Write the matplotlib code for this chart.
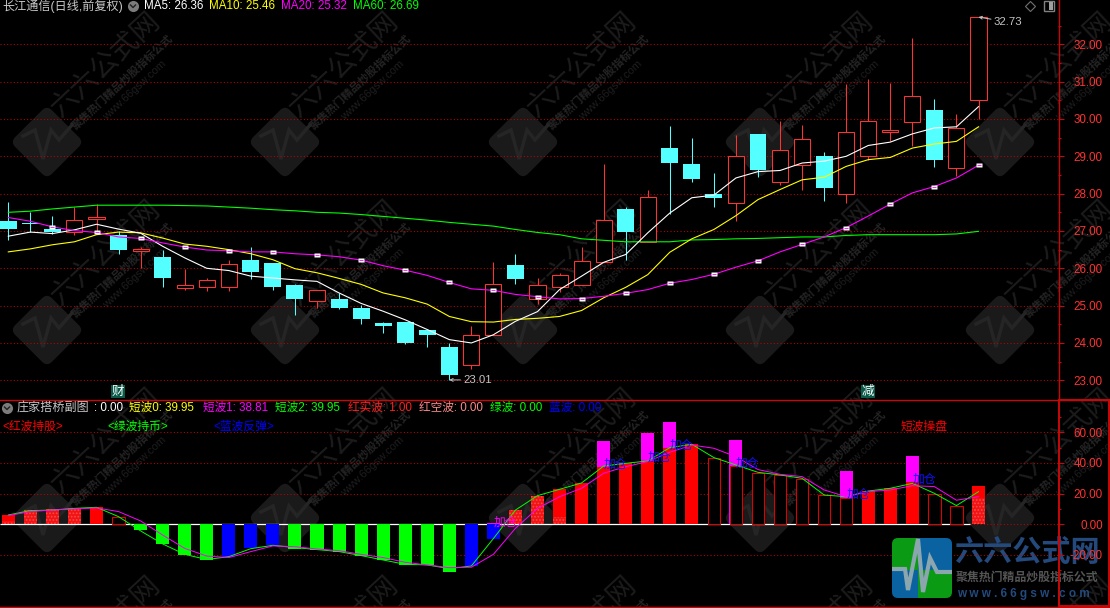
import numpy as np
import matplotlib
matplotlib.use('Agg')
import matplotlib.pyplot as plt
from matplotlib.patches import FancyBboxPatch, Rectangle
from matplotlib.transforms import Affine2D
from matplotlib.ticker import FuncFormatter

plt.rcParams['font.family'] = ['Liberation Sans', 'Noto Sans CJK SC', 'DejaVu Sans']
plt.rcParams['axes.unicode_minus'] = False
plt.rcParams['hatch.linewidth'] = 0.8

# 日K数据
opens = [27.28, 27.22, 27.04, 26.97, 27.31, 26.90, 26.46, 26.29, 25.47, 25.51, 25.49, 26.21, 26.13, 25.54, 25.12,
         25.17, 24.93, 24.54, 24.57, 24.36, 23.90, 23.40, 24.20, 26.10, 25.17, 25.49, 25.54, 26.16, 27.60, 26.71,
         29.23, 28.80, 28.00, 27.75, 29.60, 28.30, 28.76, 29.02, 27.98, 29.00, 29.66, 29.91, 30.25, 28.70, 30.50]
closes = [27.04, 27.20, 26.98, 27.29, 27.37, 26.50, 26.52, 25.75, 25.56, 25.69, 26.12, 25.91, 25.51, 25.19, 25.42,
          24.93, 24.63, 24.46, 24.01, 24.20, 23.15, 24.21, 25.58, 25.70, 25.55, 25.82, 26.20, 27.29, 26.96, 27.91,
          28.83, 28.40, 27.89, 29.02, 28.64, 29.17, 29.46, 28.16, 29.65, 29.94, 29.70, 30.61, 28.91, 29.76, 32.72]
highs = [27.78, 27.52, 27.41, 27.64, 27.73, 26.99, 26.57, 26.50, 25.97, 25.75, 26.21, 26.58, 26.13, 25.59, 25.42,
         25.33, 25.03, 24.57, 24.57, 24.36, 24.00, 24.46, 26.18, 26.37, 25.75, 25.88, 26.58, 28.80, 27.65, 28.11,
         29.82, 29.50, 28.54, 29.58, 29.60, 29.95, 29.85, 29.12, 30.94, 31.07, 30.97, 32.17, 30.54, 30.14, 32.73]
lows = [26.77, 26.97, 26.92, 26.90, 26.99, 26.39, 26.00, 25.49, 25.41, 25.38, 25.38, 25.70, 25.43, 24.74, 24.93,
        24.90, 24.50, 24.28, 23.98, 23.90, 23.01, 23.29, 24.20, 25.59, 25.05, 25.37, 25.54, 26.16, 26.23, 26.71,
        27.46, 28.32, 27.63, 27.28, 28.44, 28.22, 28.11, 27.79, 27.76, 28.91, 29.40, 29.28, 28.72, 28.48, 30.00]

ma5 = [26.86, 26.97, 26.93, 27.03, 27.18, 27.05, 26.94, 26.59, 26.28, 26.00, 25.94, 25.79, 25.74, 25.69, 25.65,
       25.34, 25.06, 24.85, 24.62, 24.36, 24.09, 24.00, 24.22, 24.58, 24.84, 25.43, 25.79, 26.16, 26.37, 26.95,
       27.48, 27.89, 27.96, 28.42, 28.59, 28.62, 28.82, 28.87, 29.00, 29.29, 29.38, 29.60, 29.76, 29.79, 30.33]
ma10 = [26.44, 26.52, 26.63, 26.71, 26.90, 26.97, 26.95, 26.81, 26.65, 26.59, 26.50, 26.39, 26.23, 25.99, 25.88,
        25.73, 25.57, 25.34, 25.21, 25.04, 24.71, 24.57, 24.56, 24.63, 24.66, 24.71, 24.87, 25.21, 25.49, 25.83,
        26.43, 26.79, 27.04, 27.41, 27.84, 28.11, 28.37, 28.44, 28.73, 28.91, 28.97, 29.22, 29.33, 29.40, 29.79]
ma20 = [27.36, 27.26, 27.11, 27.01, 26.96, 26.84, 26.80, 26.68, 26.57, 26.49, 26.47, 26.44, 26.44, 26.39, 26.36,
        26.31, 26.22, 26.07, 25.95, 25.81, 25.62, 25.45, 25.41, 25.30, 25.24, 25.18, 25.19, 25.25, 25.33, 25.43,
        25.60, 25.70, 25.84, 26.03, 26.20, 26.44, 26.64, 26.84, 27.09, 27.40, 27.72, 28.02, 28.19, 28.42, 28.76]
ma60 = [27.50, 27.53, 27.59, 27.64, 27.69, 27.69, 27.69, 27.69, 27.68, 27.67, 27.64, 27.61, 27.57, 27.54, 27.50,
        27.48, 27.44, 27.39, 27.34, 27.29, 27.23, 27.18, 27.13, 27.04, 26.96, 26.90, 26.79, 26.75, 26.71, 26.71,
        26.71, 26.76, 26.77, 26.79, 26.80, 26.82, 26.84, 26.84, 26.88, 26.90, 26.90, 26.90, 26.90, 26.92, 26.99]
price_ticks = [23, 24, 25, 26, 27, 28, 29, 30, 31, 32]

# 副图数据 r=实心红 h=空心红 g=绿 b=蓝
bar_vals = [6.1, 9.1, 10.0, 10.4, 11.3, 4.6, -3.7, -12.8, -20.0, -23.3, -21.1, -15.7, -13.7, -15.9, -16.7,
            -18.0, -20.7, -23.3, -26.5, -26.5, -31.1, -27.2, -9.3, 9.3, 18.3, 23.0, 27.0, 37.4, 39.8, 41.3,
            49.6, 52.2, 43.0, 38.0, 33.7, 32.0, 29.3, 18.9, 17.0, 21.7, 23.7, 27.4, 19.6, 11.7, 25.0]
bar_kinds = list('rrrrrh' + 'gggg' + 'bbb' + 'gggggggg' + 'bb' + 'rrrrrrrrr' + 'hhhhhhh' + 'rrr' + 'hh' + 'r')
magenta_idx = [22, 27, 29, 30, 33, 38, 41]
magenta_tops = [0.9, 54.3, 59.6, 66.5, 55.0, 34.8, 44.6]
pattern_idx = [0, 1, 2, 3, 23, 24, 25, 44]
pattern_tops = [2.0, 9.1, 10.0, 10.4, 9.3, 18.3, 5.0, 17.0]
wave2 = [6.1, 8.9, 9.3, 10.4, 11.1, 5.0, -4.3, -12.8, -19.6, -23.0, -21.1, -15.9, -13.7, -15.2, -16.5,
         -17.8, -20.4, -23.3, -26.1, -26.5, -28.9, -27.2, -9.3, 9.3, 18.7, 22.8, 27.0, 38.0, 39.8, 41.3,
         50.0, 52.2, 43.5, 38.7, 33.9, 32.2, 30.0, 19.1, 18.0, 21.7, 23.5, 26.7, 20.2, 12.2, 21.3]
wave1 = [5.7, 8.3, 9.3, 10.0, 10.7, 8.3, 2.2, -7.0, -15.7, -20.7, -21.7, -17.8, -14.1, -14.6, -16.1,
         -17.2, -19.6, -21.7, -24.8, -26.5, -28.3, -28.0, -19.6, -2.6, 10.4, 18.0, 23.5, 33.3, 37.6, 40.9,
         47.0, 51.7, 49.6, 44.1, 35.7, 32.6, 31.1, 22.4, 18.0, 21.3, 22.4, 25.2, 24.6, 15.7, 18.0]
add_idx = [22, 27, 29, 30, 33, 38, 41]
add_vals = [1.0, 39.0, 43.5, 51.0, 39.5, 19.0, 29.0]
sub_ticks = [-20, 0, 20, 40, 60]

RED = '#ff3232'
CYAN = '#54ffff'
GRID = '#c00000'
FRAME = '#c80808'

W, H = 1110, 608
fig = plt.figure(figsize=(W / 100, H / 100), dpi=100, facecolor='black')

# 像素坐标的底层和顶层
bg = fig.add_axes([0, 0, 1, 1], zorder=0)
top = fig.add_axes([0, 0, 1, 1], zorder=3)
for a in (bg, top):
    a.set_xlim(0, W)
    a.set_ylim(H, 0)
    a.axis('off')
top.patch.set_alpha(0)


def watermark(cx, cy):
    tr = Affine2D().rotate_deg(45).translate(cx, cy) + bg.transData
    bg.add_patch(FancyBboxPatch((-26, -26), 52, 52, boxstyle='round,pad=0,rounding_size=7',
                                fc='#1a1a1a', ec='none', transform=tr, zorder=1))
    bg.plot([cx - 24, cx - 12, cx - 4, cx + 4, cx + 12, cx + 25],
            [cy - 6, cy - 12, cy + 17, cy - 12, cy - 2, cy - 17],
            color='#252525', lw=2.5, zorder=2, solid_joinstyle='miter')
    bg.text(cx + 59, cy - 77, '六六公式网', fontsize=20, color='#1c1c1c', rotation=43, rotation_mode='anchor',
            ha='center', va='center', zorder=1)
    bg.text(cx + 75, cy - 60, '聚焦热门精品炒股指标公式', fontsize=8, color='#242424', rotation=43,
            rotation_mode='anchor', ha='center', va='center', fontweight='bold', zorder=1)
    bg.text(cx + 88, cy - 52, 'www.66gsw.com', fontsize=8, color='#1e1e1e', rotation=43,
            rotation_mode='anchor', ha='center', va='center', zorder=1)


for cy in (142, 330, 518, 706):
    for cx in (47, 285, 523, 760, 1000):
        watermark(cx, cy)

# 右下角水印文字在网格下面
bg.text(1027, 553, '六六公式网', fontsize=21, color='#23497d', ha='center', va='center', fontweight='bold', zorder=5)
bg.text(1027, 578, '聚焦热门精品炒股指标公式', fontsize=8.6, color='#555555', ha='center', va='center',
        fontweight='bold', zorder=5)
bg.text(1023, 594, 'w w w . 6 6 g s w . c o m', fontsize=8.5, color='#23497d', ha='center', va='center',
        fontweight='bold', zorder=5)

idx = np.arange(len(closes))
xlim = (-8.3 / 22.05, (1058 - 8.3) / 22.05)

# 主图
ax = fig.add_axes([0, 1 - 399.5 / H, 1058 / W, 399.5 / H], zorder=1)
ax.patch.set_alpha(0)
ax.set_xlim(*xlim)
ax.set_ylim(23 - (399.5 - 380.3) / 37.33, 32 + 44.3 / 37.33)

o, c, hi, lo = map(np.array, (opens, closes, highs, lows))
up = c >= o
ax.vlines(idx[up], lo[up], hi[up], color=RED, lw=0.75, zorder=2)
ax.vlines(idx[~up], lo[~up], hi[~up], color=CYAN, lw=0.75, zorder=2)
ax.bar(idx[up], (c - o)[up], bottom=o[up], width=0.73, facecolor='black', edgecolor=RED, lw=0.75, zorder=2.2)
ax.bar(idx[~up], (o - c)[~up], bottom=c[~up], width=0.77, facecolor=CYAN, edgecolor='none', zorder=2.2)

ax.plot(idx, ma60, color='#00ff00', lw=0.8, zorder=3)
ax.plot(idx, ma10, color='#ffff00', lw=0.8, zorder=3)
ax.plot(idx, ma5, color='white', lw=0.8, zorder=3)
ax.plot(idx, ma20, color='#ff00ff', lw=0.8, zorder=3.1)
rect_marker = [(-1, -0.6), (1, -0.6), (1, 0.6), (-1, 0.6), (-1, -0.6)]
ax.plot(idx[2::2], np.array(ma20)[2::2], ls='none', marker=rect_marker, ms=4, mfc='white', mec='none', zorder=3.2)
ax.plot(idx[2::2], np.array(ma20)[2::2], ls='none', marker='_', ms=3, mec='#ff00ff', mew=0.6, zorder=3.3)

ax.annotate('23.01', xy=(20, min(lows)), xytext=(10, 0), textcoords='offset points', color='#c4c4c4', fontsize=8.2,
            va='center', ha='left', arrowprops=dict(arrowstyle='->', color='#c4c4c4', lw=0.7, shrinkA=0, shrinkB=0,
                                                    mutation_scale=5), zorder=5)
ax.annotate('32.73', xy=(44, max(highs)), xytext=(11, -3.6), textcoords='offset points', color='#c4c4c4', fontsize=8.2,
            va='center', ha='left', arrowprops=dict(arrowstyle='->', color='#c4c4c4', lw=0.7, shrinkA=0, shrinkB=0,
                                                    mutation_scale=5), zorder=5)
for i, s in ((5, '财'), (39, '减')):
    ax.text(i - 0.02, 22.70, s, color='white', fontsize=9, ha='center', va='center', zorder=5,
            bbox=dict(fc='#0a5a4a', ec='none', pad=0.6))

# 副图
ax2 = fig.add_axes([0, 1 - 606 / H, 1058 / W, 206 / H], zorder=1)
ax2.patch.set_alpha(0)
ax2.set_xlim(*xlim)
ax2.set_ylim(-(606 - 524.3) / 1.533, (524.3 - 400) / 1.533)

colors = {'r': '#ff0000', 'g': '#00ff00', 'b': '#0000ff'}
ax2.hlines(0, xlim[0], 43.6, color='white', lw=0.9, zorder=1.5)
ax2.bar(magenta_idx, magenta_tops, width=0.59, color='#ff00ff', zorder=2)
for i, v, k in zip(idx, bar_vals, bar_kinds):
    if k == 'h':
        ax2.bar(i, v, width=0.57, facecolor='black', edgecolor='#e00000', lw=0.75, zorder=2.2)
    else:
        ax2.bar(i, v, width=0.59, color=colors[k], zorder=2.2)
ax2.bar(pattern_idx, pattern_tops, width=0.59, facecolor='#f01414', edgecolor='#ff4a4a', hatch='.....', lw=0, zorder=2.3)

ax2.plot(idx, wave2, color='#00ff00', lw=0.7, zorder=3)
ax2.plot(idx, wave1, color='#ff00ff', lw=0.7, zorder=3.1)
for i, v in zip(add_idx, add_vals):
    ax2.text(i, v, '加仓', color='#ff00ff' if i == 22 else '#1010ff', fontsize=8.5, ha='left', va='center', zorder=4)

# 坐标轴
for a, ticks, step in ((ax, price_ticks, 0.5), (ax2, sub_ticks, 10)):
    for s in a.spines.values():
        s.set_visible(False)
    a.set_xticks([])
    a.set_yticks(ticks)
    a.set_yticks(np.arange(min(ticks) - step, max(ticks) + step * 1.5, step * 2), minor=True)
    a.yaxis.tick_right()
    a.yaxis.set_major_formatter(FuncFormatter(lambda v, p: '%.2f' % v))
    a.tick_params(axis='y', which='major', length=4.3, width=0.75, color=FRAME, labelcolor=RED, labelsize=8.4, pad=28)
    a.tick_params(axis='y', which='minor', length=2.2, width=0.75, color=FRAME)
    for lb in a.get_yticklabels():
        lb.set_ha('right')
    a.grid(axis='y', which='major', color=GRID, lw=0.75, ls=(0, (1, 2.2)))
    a.set_axisbelow(True)

# 边框
top.plot([0, W], [399.5, 399.5], color=FRAME, lw=1)
top.plot([0, W], [606.5, 606.5], color=FRAME, lw=1)
top.plot([1058.5, 1058.5], [0, 400], color=FRAME, lw=1)
top.add_patch(Rectangle((1059, 400), 50, 206, fc='none', ec=FRAME, lw=1.4))

# 标题文字
def label(x, y, s, color, size=8.4, **kw):
    top.text(x, y, s, color=color, fontsize=size, ha='left', va='center', **kw)


def circle_icon(x, y):
    top.plot([x], [y], marker='o', ms=8, mfc='#7c7c7c', mec='none')
    top.plot([x - 2.5, x, x + 2.5], [y - 1, y + 1.5, y - 1], color='#202020', lw=1)


label(2, 6.5, '长江通信(日线,前复权)', '#c8c8c8', 8.7)
circle_icon(133, 6)
label(144, 6, 'MA5: 26.36', 'white')
label(209, 6, 'MA10: 25.46', '#ffff00')
label(281, 6, 'MA20: 25.32', '#ff00ff')
label(353, 6, 'MA60: 26.69', '#00ff00')
top.plot([1030], [6], marker='D', ms=5, mfc='none', mec='#707070', mew=0.8)
top.add_patch(Rectangle((1044, 1), 10, 10, fc='none', ec='#808080', lw=1))
top.add_patch(Rectangle((1049, 2), 4, 8, fc='#a0a0a0', ec='none'))

circle_icon(7, 408)
label(17, 408, '庄家搭桥副图', '#c8c8c8', 8.7)
label(94, 408, ': 0.00', 'white')
label(129, 408, '短波0: 39.95', '#ffff00')
label(203, 408, '短波1: 38.81', '#ff00ff')
label(275, 408, '短波2: 39.95', '#00ff00')
label(348, 408, '红实波: 1.00', '#ff2020')
label(419, 408, '红空波: 0.00', '#ff8a8a')
label(490, 408, '绿波: 0.00', '#00ff00')
label(549, 408, '蓝波: 0.00', '#0000ff')
label(2, 427, '<红波持股>', '#ff0000', 8.5)
label(107, 427, '<绿波持币>', '#00ff00', 8.5)
label(213, 427, '<蓝波反弹>', '#0000ff', 8.5)
label(901, 427, '短波操盘', '#ff0000', 8.5)

# logo
clip = FancyBboxPatch((892, 538), 60, 60, boxstyle='round,pad=0,rounding_size=6', fc='none', ec='none',
                      transform=top.transData)
top.add_patch(clip)
for rx, ry, rw, rh, col in ((892, 538, 26, 32, '#0a9a14'), (918, 538, 34, 32, '#0a62a0'),
                            (892, 570, 26, 28, '#0a62a0'), (918, 570, 34, 28, '#0a9a14')):
    r = Rectangle((rx, ry), rw, rh, fc=col, ec='none', zorder=6)
    top.add_patch(r)
    r.set_clip_path(clip)
pulse, = top.plot([892, 905, 908, 918, 923, 930, 937, 952], [569, 569, 590, 539, 592, 558, 572, 572],
                  color='#8ba6ae', lw=3, zorder=7, solid_joinstyle='miter')
pulse.set_clip_path(clip)

fig.savefig('out.png', dpi=100, facecolor='black')
